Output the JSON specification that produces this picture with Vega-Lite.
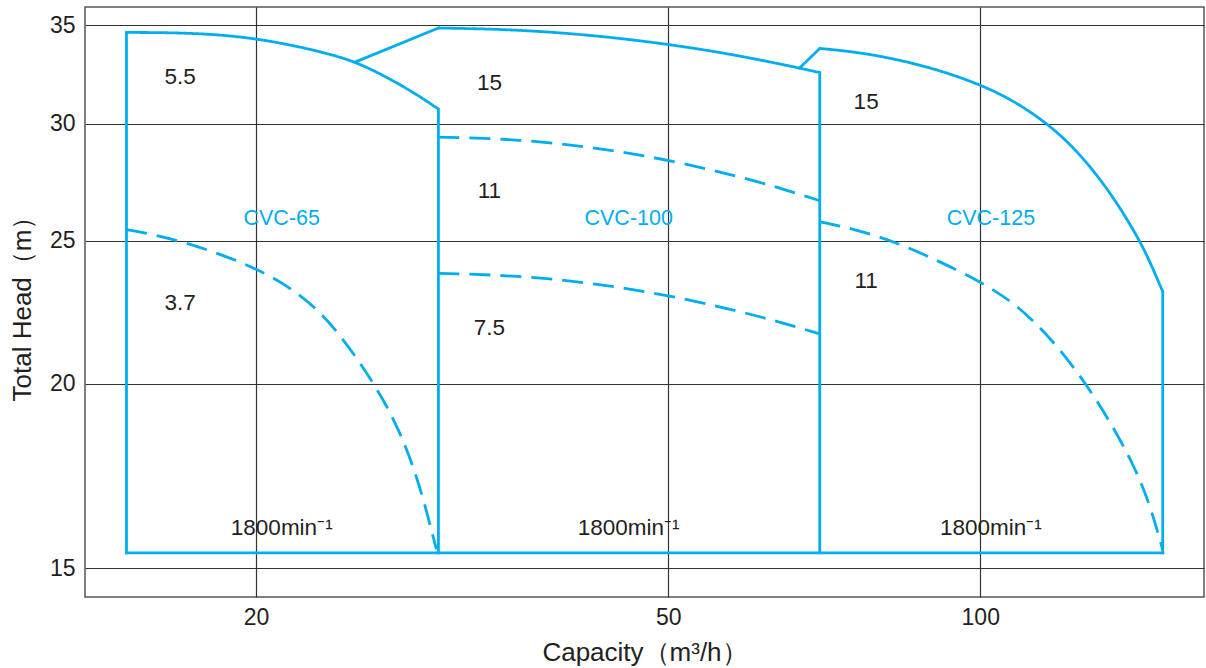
{
  "$schema": "https://vega.github.io/schema/vega-lite/v6.json",
  "autosize": {"type": "none"},
  "width": 1119,
  "height": 590,
  "padding": {"left": 85, "top": 7, "right": 2, "bottom": 71},
  "background": "white",
  "datasets": {
    "curves": [
      {"path": "CVC-65 5.5kW", "kind": "limit", "i": 1, "q": 15, "h": 34.6},
      {"path": "CVC-65 5.5kW", "kind": "limit", "i": 2, "q": 16.73, "h": 34.59},
      {"path": "CVC-65 5.5kW", "kind": "limit", "i": 3, "q": 18.7, "h": 34.47},
      {"path": "CVC-65 5.5kW", "kind": "limit", "i": 4, "q": 20.9, "h": 34.11},
      {"path": "CVC-65 5.5kW", "kind": "limit", "i": 5, "q": 23.35, "h": 33.52},
      {"path": "CVC-65 5.5kW", "kind": "limit", "i": 6, "q": 24.96, "h": 33.05},
      {"path": "CVC-65 5.5kW", "kind": "limit", "i": 7, "q": 26.69, "h": 32.3},
      {"path": "CVC-65 5.5kW", "kind": "limit", "i": 8, "q": 28.52, "h": 31.45},
      {"path": "CVC-65 5.5kW", "kind": "limit", "i": 9, "q": 30, "h": 30.7},
      {"path": "CVC-100 15kW", "kind": "limit", "i": 1, "q": 30, "h": 34.84},
      {"path": "CVC-100 15kW", "kind": "limit", "i": 2, "q": 34.29, "h": 34.78},
      {"path": "CVC-100 15kW", "kind": "limit", "i": 3, "q": 39.18, "h": 34.6},
      {"path": "CVC-100 15kW", "kind": "limit", "i": 4, "q": 44.78, "h": 34.3},
      {"path": "CVC-100 15kW", "kind": "limit", "i": 5, "q": 51.17, "h": 33.89},
      {"path": "CVC-100 15kW", "kind": "limit", "i": 6, "q": 58.45, "h": 33.38},
      {"path": "CVC-100 15kW", "kind": "limit", "i": 7, "q": 66.94, "h": 32.73},
      {"path": "CVC-100 15kW", "kind": "limit", "i": 8, "q": 70, "h": 32.5},
      {"path": "CVC-125 15kW", "kind": "limit", "i": 1, "q": 70, "h": 33.75},
      {"path": "CVC-125 15kW", "kind": "limit", "i": 2, "q": 76.46, "h": 33.54},
      {"path": "CVC-125 15kW", "kind": "limit", "i": 3, "q": 83.58, "h": 33.15},
      {"path": "CVC-125 15kW", "kind": "limit", "i": 4, "q": 91.35, "h": 32.62},
      {"path": "CVC-125 15kW", "kind": "limit", "i": 5, "q": 100, "h": 31.9},
      {"path": "CVC-125 15kW", "kind": "limit", "i": 6, "q": 107.7, "h": 31.11},
      {"path": "CVC-125 15kW", "kind": "limit", "i": 7, "q": 115.8, "h": 30.05},
      {"path": "CVC-125 15kW", "kind": "limit", "i": 8, "q": 122.0, "h": 29.09},
      {"path": "CVC-125 15kW", "kind": "limit", "i": 9, "q": 128.3, "h": 27.96},
      {"path": "CVC-125 15kW", "kind": "limit", "i": 10, "q": 135.1, "h": 26.62},
      {"path": "CVC-125 15kW", "kind": "limit", "i": 11, "q": 142.5, "h": 25.02},
      {"path": "CVC-125 15kW", "kind": "limit", "i": 12, "q": 146.3, "h": 24.06},
      {"path": "CVC-125 15kW", "kind": "limit", "i": 13, "q": 150, "h": 23.09},
      {"path": "CVC-65 3.7kW", "kind": "motor", "i": 1, "q": 15, "h": 25.44},
      {"path": "CVC-65 3.7kW", "kind": "motor", "i": 2, "q": 16.88, "h": 25.05},
      {"path": "CVC-65 3.7kW", "kind": "motor", "i": 3, "q": 20, "h": 24.0},
      {"path": "CVC-65 3.7kW", "kind": "motor", "i": 4, "q": 22.04, "h": 23.03},
      {"path": "CVC-65 3.7kW", "kind": "motor", "i": 5, "q": 23.73, "h": 21.95},
      {"path": "CVC-65 3.7kW", "kind": "motor", "i": 6, "q": 26.05, "h": 20.0},
      {"path": "CVC-65 3.7kW", "kind": "motor", "i": 7, "q": 27.52, "h": 18.61},
      {"path": "CVC-65 3.7kW", "kind": "motor", "i": 8, "q": 28.77, "h": 17.12},
      {"path": "CVC-65 3.7kW", "kind": "motor", "i": 9, "q": 29.86, "h": 15.45},
      {"path": "CVC-100 11kW", "kind": "motor", "i": 1, "q": 30, "h": 29.39},
      {"path": "CVC-100 11kW", "kind": "motor", "i": 2, "q": 34.31, "h": 29.32},
      {"path": "CVC-100 11kW", "kind": "motor", "i": 3, "q": 39.21, "h": 29.11},
      {"path": "CVC-100 11kW", "kind": "motor", "i": 4, "q": 44.81, "h": 28.75},
      {"path": "CVC-100 11kW", "kind": "motor", "i": 5, "q": 51.2, "h": 28.26},
      {"path": "CVC-100 11kW", "kind": "motor", "i": 6, "q": 58.49, "h": 27.63},
      {"path": "CVC-100 11kW", "kind": "motor", "i": 7, "q": 63.93, "h": 27.16},
      {"path": "CVC-100 11kW", "kind": "motor", "i": 8, "q": 70, "h": 26.61},
      {"path": "CVC-100 7.5kW", "kind": "motor", "i": 1, "q": 30, "h": 23.76},
      {"path": "CVC-100 7.5kW", "kind": "motor", "i": 2, "q": 34.31, "h": 23.7},
      {"path": "CVC-100 7.5kW", "kind": "motor", "i": 3, "q": 39.21, "h": 23.54},
      {"path": "CVC-100 7.5kW", "kind": "motor", "i": 4, "q": 44.81, "h": 23.26},
      {"path": "CVC-100 7.5kW", "kind": "motor", "i": 5, "q": 51.2, "h": 22.88},
      {"path": "CVC-100 7.5kW", "kind": "motor", "i": 6, "q": 58.49, "h": 22.4},
      {"path": "CVC-100 7.5kW", "kind": "motor", "i": 7, "q": 63.93, "h": 22.03},
      {"path": "CVC-100 7.5kW", "kind": "motor", "i": 8, "q": 70, "h": 21.62},
      {"path": "CVC-125 11kW", "kind": "motor", "i": 1, "q": 70, "h": 25.75},
      {"path": "CVC-125 11kW", "kind": "motor", "i": 2, "q": 75.33, "h": 25.48},
      {"path": "CVC-125 11kW", "kind": "motor", "i": 3, "q": 83.58, "h": 24.92},
      {"path": "CVC-125 11kW", "kind": "motor", "i": 4, "q": 100, "h": 23.5},
      {"path": "CVC-125 11kW", "kind": "motor", "i": 5, "q": 109.1, "h": 22.55},
      {"path": "CVC-125 11kW", "kind": "motor", "i": 6, "q": 117.5, "h": 21.4},
      {"path": "CVC-125 11kW", "kind": "motor", "i": 7, "q": 126.6, "h": 20.0},
      {"path": "CVC-125 11kW", "kind": "motor", "i": 8, "q": 134.3, "h": 18.7},
      {"path": "CVC-125 11kW", "kind": "motor", "i": 9, "q": 140.4, "h": 17.66},
      {"path": "CVC-125 11kW", "kind": "motor", "i": 10, "q": 145.7, "h": 16.6},
      {"path": "CVC-125 11kW", "kind": "motor", "i": 11, "q": 150, "h": 15.43}
    ],
    "edges": [
      {"path": "e1", "i": 1, "q": 15, "h": 15.36},
      {"path": "e1", "i": 2, "q": 15, "h": 34.6},
      {"path": "e2", "i": 1, "q": 30, "h": 30.7},
      {"path": "e2", "i": 2, "q": 30, "h": 15.36},
      {"path": "e3", "i": 1, "q": 24.96, "h": 33.05},
      {"path": "e3", "i": 2, "q": 30, "h": 34.84},
      {"path": "e4", "i": 1, "q": 70, "h": 32.5},
      {"path": "e4", "i": 2, "q": 70, "h": 15.36},
      {"path": "e5", "i": 1, "q": 66.94, "h": 32.73},
      {"path": "e5", "i": 2, "q": 70, "h": 33.75},
      {"path": "e6", "i": 1, "q": 150, "h": 23.09},
      {"path": "e6", "i": 2, "q": 150, "h": 15.36},
      {"path": "e7", "i": 1, "q": 15, "h": 15.36},
      {"path": "e7", "i": 2, "q": 150, "h": 15.36}
    ],
    "models": [
      {"text": "CVC-65", "q": 21.18, "h": 25.86},
      {"text": "CVC-100", "q": 45.78, "h": 25.86},
      {"text": "CVC-125", "q": 102.4, "h": 25.86}
    ],
    "labels": [
      {"text": "5.5", "q": 16.9, "h": 32.28},
      {"text": "3.7", "q": 16.9, "h": 22.7},
      {"text": "1800min⁻¹", "q": 21.18, "h": 15.97},
      {"text": "15", "q": 33.6, "h": 31.97},
      {"text": "11", "q": 33.6, "h": 27.02},
      {"text": "7.5", "q": 33.6, "h": 21.83},
      {"text": "1800min⁻¹", "q": 45.78, "h": 15.97},
      {"text": "15", "q": 77.6, "h": 31.02},
      {"text": "11", "q": 77.6, "h": 23.48},
      {"text": "1800min⁻¹", "q": 102.4, "h": 15.97}
    ]
  },
  "encoding": {
    "x": {
      "field": "q", "type": "quantitative",
      "scale": {"type": "log", "domain": [13.68, 164.4], "nice": false, "zero": false},
      "axis": {"values": [20, 50, 100], "title": "Capacity（m³/h）", "labelPadding": 9, "titlePadding": 10}
    },
    "y": {
      "field": "h", "type": "quantitative",
      "scale": {"type": "log", "domain": [14.34, 36], "nice": false, "zero": false},
      "axis": {"values": [15, 20, 25, 30, 35], "title": "Total  Head（m）", "labelPadding": 10, "titlePadding": 14}
    }
  },
  "layer": [
    {
      "data": {"name": "edges"},
      "mark": {"type": "line", "interpolate": "linear", "color": "#00aeef", "strokeWidth": 2.8, "strokeCap": "square"},
      "encoding": {
        "detail": {"field": "path", "type": "nominal"},
        "order": {"field": "i", "type": "quantitative"}
      }
    },
    {
      "data": {"name": "curves"},
      "mark": {"type": "line", "interpolate": "basis", "color": "#00aeef", "strokeWidth": 2.8},
      "encoding": {
        "detail": {"field": "path", "type": "nominal"},
        "order": {"field": "i", "type": "quantitative"},
        "strokeDash": {
          "field": "kind", "type": "nominal",
          "scale": {"domain": ["limit", "motor"], "range": [[1, 0], [21, 10]]},
          "legend": null
        }
      }
    },
    {
      "data": {"name": "models"},
      "mark": {"type": "text", "fontSize": 21.5, "font": "Liberation Sans", "align": "center", "baseline": "middle", "color": "#00aeef"},
      "encoding": {
        "text": {"field": "text", "type": "nominal"}
      }
    },
    {
      "data": {"name": "labels"},
      "mark": {"type": "text", "fontSize": 22.5, "font": "Liberation Sans", "align": "center", "baseline": "middle", "color": "#231f20"},
      "encoding": {
        "text": {"field": "text", "type": "nominal"}
      }
    }
  ],
  "config": {
    "font": "Liberation Sans",
    "view": {"stroke": "#555555", "strokeWidth": 1.5},
    "axis": {
      "grid": true,
      "gridColor": "#333333",
      "gridOpacity": 1,
      "gridWidth": 1.2,
      "domain": false,
      "ticks": false,
      "labelFontSize": 23,
      "labelColor": "#231f20",
      "labelFont": "Liberation Sans",
      "titleFont": "Liberation Sans",
      "titleFontSize": 26,
      "titleFontWeight": "normal",
      "titleColor": "#231f20"
    }
  }
}
